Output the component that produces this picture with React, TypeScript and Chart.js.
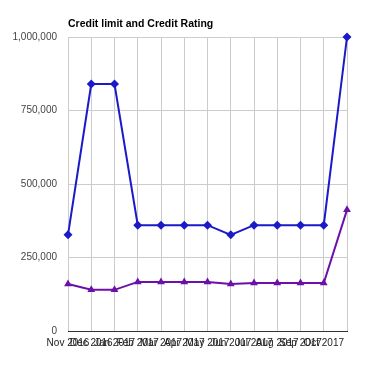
import React, { useEffect, useRef } from "react";
import { Chart, registerables } from "chart.js";

Chart.register(...registerables);

const titleText = "Credit limit and Credit Rating";
const categories = [
  "Nov 2016", "Dec 2016", "Jan 2017", "Feb 2017", "Mar 2017", "Apr 2017", "May 2017",
  "Jun 2017", "Jul 2017", "Aug 2017", "Sep 2017", "Oct 2017", "Nov 2017",
];
const creditLimit = [327000, 840000, 840000, 360000, 360000, 360000, 360000, 327000, 360000, 360000, 360000, 360000, 1000000];
const creditRating = [160000, 140000, 140000, 167000, 167000, 167000, 167000, 160000, 163000, 163000, 163000, 163000, 412000];
const yTicks = [0, 250000, 500000, 750000, 1000000];

const FONT = '"Liberation Sans", Arial, sans-serif';

export default function App() {
  const ref = useRef<HTMLCanvasElement | null>(null);
  useEffect(() => {
    if (!ref.current) return;
    const titlePlugin = {
      id: "leftTitle",
      afterDraw(chart: any) {
        const ctx = chart.ctx;
        ctx.save();
        ctx.font = `bold 10.5px ${FONT}`;
        ctx.fillStyle = "#000";
        ctx.textBaseline = "alphabetic";
        ctx.textAlign = "left";
        ctx.fillText(titleText, chart.chartArea.left, 26.5);
        ctx.restore();
      },
    };
    const chart = new Chart(ref.current, {
      type: "line",
      data: {
        labels: categories,
        datasets: [
          {
            label: "Credit limit",
            data: creditLimit,
            borderColor: "#1a1ac8",
            backgroundColor: "#1a1ac8",
            borderWidth: 2,
            pointStyle: "rectRot",
            pointRadius: 4.5,
            pointBorderWidth: 0,
            tension: 0,
            clip: false,
          },
          {
            label: "Credit Rating",
            data: creditRating,
            borderColor: "#6c10a8",
            backgroundColor: "#6c10a8",
            borderWidth: 2,
            pointStyle: "triangle",
            pointRadius: 4.5,
            pointBorderWidth: 0,
            tension: 0,
            clip: false,
          },
        ],
      },
      options: {
        responsive: false,
        animation: false,
        layout: { padding: { top: 37, right: 26, bottom: 0, left: 0 } },
        plugins: { legend: { display: false }, title: { display: false }, tooltip: { enabled: false } },
        scales: {
          x: {
            afterFit: (s: any) => { s.height = 39; },
            grid: { color: "#cccccc", drawTicks: false, lineWidth: 1 },
            border: { display: true, color: "#333333", width: 1 },
            ticks: {
              autoSkip: false,
              maxRotation: 0,
              minRotation: 0,
              padding: 6,
              color: "#222222",
              font: { family: FONT, size: 10 },
              callback: (_v: any, i: number) => (i === categories.length - 1 ? "" : categories[i]),
            },
          },
          y: {
            min: 0,
            max: 1000000,
            afterFit: (s: any) => { s.width = 68; },
            afterBuildTicks: (s: any) => { s.ticks = yTicks.map((v) => ({ value: v })); },
            grid: { color: "#cccccc", drawTicks: false, lineWidth: 1 },
            border: { display: false },
            ticks: {
              padding: 11,
              color: "#444444",
              font: { family: FONT, size: 10 },
              callback: (v: any) => Number(v).toLocaleString("en-US"),
            },
          },
        },
      },
      plugins: [titlePlugin],
    });
    return () => chart.destroy();
  }, []);
  return (
    <div style={{ position: "fixed", left: 0, top: 0, width: 373, height: 370, background: "#fff" }}>
      <canvas ref={ref} width={373} height={370} />
    </div>
  );
}
